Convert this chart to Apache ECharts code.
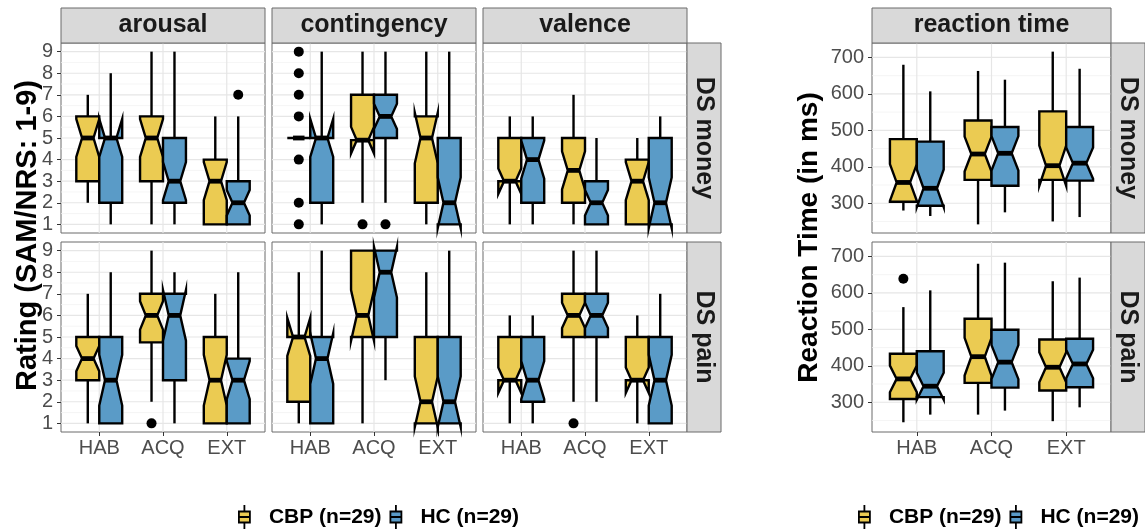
<!DOCTYPE html>
<html><head><meta charset="utf-8">
<script src="https://cdn.jsdelivr.net/npm/echarts@6/dist/echarts.min.js"></script>
<style>html,body{margin:0;padding:0;background:#fff}#chart{width:1145px;height:531px}</style>
</head><body><div id="chart"></div>
<script>
// ---------------- DATA ----------------
const CATEGORIES = ['HAB', 'ACQ', 'EXT'];
const GROUPS = ['CBP (n=29)', 'HC (n=29)'];
const COLUMN_LABELS = ['arousal', 'contingency', 'valence'];
const ROW_LABELS = ['DS money', 'DS pain'];
const RT_LABEL = 'reaction time';
const RATING_TICKS = [1, 2, 3, 4, 5, 6, 7, 8, 9];
const RT_TICKS = [300, 400, 500, 600, 700];
const N_PER_GROUP = 29;

// box stats per category (HAB, ACQ, EXT): [min whisker, Q1, median, Q3, max whisker]
const arousalMoneyCBP = [[2, 3, 5, 6, 7], [1, 3, 5, 6, 9], [1, 1, 3, 4, 6]];
const arousalMoneyHC  = [[1, 2, 5, 5, 8], [1, 2, 3, 5, 9], [1, 1, 2, 3, 6]];
const contingencyMoneyCBP = [[5, 5, 5, 5, 5], [2, 4.9, 4.9, 7, 9], [1, 2, 5, 6, 9]];
const contingencyMoneyHC  = [[1, 2, 5, 5, 9], [2, 5, 6, 7, 9], [1, 1, 2, 5, 9]];
const valenceMoneyCBP = [[1, 3, 3, 5, 6], [1, 2, 3.5, 5, 7], [1, 1, 3, 4, 5]];
const valenceMoneyHC  = [[1, 2, 4, 5, 6], [1, 1, 2, 3, 5], [1, 1, 2, 5, 6]];
const arousalPainCBP = [[1, 3, 4, 5, 7], [2, 4.75, 6, 7, 9], [1, 1, 3, 5, 7]];
const arousalPainHC  = [[1, 1, 3, 5, 8], [1, 3, 6, 7, 8], [1, 1, 3, 4, 8]];
const contingencyPainCBP = [[1, 2, 5, 5, 8], [1, 5, 6, 9, 9], [1, 1, 2, 5, 8]];
const contingencyPainHC  = [[1, 1, 4, 5, 9], [3, 5, 8, 9, 9], [1, 1, 2, 5, 9]];
const valencePainCBP = [[1, 3, 3, 5, 6], [2, 5, 6, 7, 9], [1, 3, 3, 5, 6]];
const valencePainHC  = [[1, 2, 3, 5, 6], [2, 5, 6, 7, 9], [1, 1, 3, 5, 7]];
const rtMoneyCBP = [[280, 304, 357, 476, 680], [242, 364, 435, 527, 663], [250, 364, 403, 552, 716]];
const rtMoneyHC  = [[265, 293, 341, 469, 607], [275, 348, 437, 509, 639], [262, 362, 410, 509, 669]];
const rtPainCBP = [[245, 309, 364, 433, 561], [266, 353, 425, 529, 680], [248, 332, 396, 472, 632]];
const rtPainHC  = [[266, 314, 344, 440, 607], [277, 340, 410, 499, 683], [286, 341, 405, 474, 642]];

// outliers: [category index, value]
const arousalMoneyOutHC = [[2, 7]];
const contingencyMoneyOutCBP = [[0, 9], [0, 8], [0, 7], [0, 6], [0, 4], [0, 2], [0, 1], [1, 1]];
const contingencyMoneyOutHC = [[1, 1]];
const arousalPainOutCBP = [[1, 1]];
const valencePainOutCBP = [[1, 1]];
const rtPainOutCBP = [[0, 639]];

// ---------------- STYLE / LAYOUT ----------------
const FONT = '"Liberation Sans", Arial, Helvetica, sans-serif';
const COLORS = ['#EBCB52', '#5A9BC7'];
const COL_LEFT = [61, 272, 483], COL_W = 204;
const RT_LEFT = 872, RT_W = 239;
const ROW_TOP = [43, 242], ROW_H = 190;
const STRIP_TOP = 8, STRIP_H = 35, ROW_STRIP_W = 34;
const X_LIM = [0.4, 3.6];
const DODGE = 0.18, HALF_W = 0.18;
const LW = 2.4;
const NOTCH_K = 1.58 / Math.sqrt(N_PER_GROUP);

function expand(sets) {
  let lo = Infinity, hi = -Infinity;
  sets.forEach(s => s.forEach(r => r.forEach((v, i) => {
    if (r.length === 2 && i === 0) return;
    lo = Math.min(lo, v); hi = Math.max(hi, v);
  })));
  const pad = (hi - lo) * 0.05;
  return [lo - pad, hi + pad];
}
function minorTicks(major, lim) {
  const out = [];
  const step = major[1] - major[0];
  const all = [major[0] - step].concat(major, [major[major.length - 1] + step]);
  for (let i = 0; i < all.length - 1; i++) {
    const m = (all[i] + all[i + 1]) / 2;
    if (m > lim[0] && m < lim[1]) out.push(m);
  }
  return out;
}

const ratingPanels = [
  { col: 0, row: 0, g: [arousalMoneyCBP, arousalMoneyHC], out: [[], arousalMoneyOutHC] },
  { col: 1, row: 0, g: [contingencyMoneyCBP, contingencyMoneyHC], out: [contingencyMoneyOutCBP, contingencyMoneyOutHC] },
  { col: 2, row: 0, g: [valenceMoneyCBP, valenceMoneyHC], out: [[], []] },
  { col: 0, row: 1, g: [arousalPainCBP, arousalPainHC], out: [arousalPainOutCBP, []] },
  { col: 1, row: 1, g: [contingencyPainCBP, contingencyPainHC], out: [[], []] },
  { col: 2, row: 1, g: [valencePainCBP, valencePainHC], out: [valencePainOutCBP, []] }
];
const rtPanels = [
  { col: 0, row: 0, g: [rtMoneyCBP, rtMoneyHC], out: [[], []] },
  { col: 0, row: 1, g: [rtPainCBP, rtPainHC], out: [rtPainOutCBP, []] }
];
const RATING_LIM = expand(ratingPanels.flatMap(p => p.g.concat(p.out)));
const RT_LIM = expand(rtPanels.flatMap(p => p.g.concat(p.out)));

function boxRenderer(offset, color) {
  return function (params, api) {
    const x = api.value(0) + offset;
    const mn = api.value(1), q1 = api.value(2), md = api.value(3), q3 = api.value(4), mx = api.value(5);
    const x0 = x - HALF_W, x1 = x + HALF_W, ind = (x1 - x0) * 0.25;
    const nd = NOTCH_K * (q3 - q1);
    const nlo = md - nd, nhi = md + nd;
    const P = (a, b) => api.coord([a, b]);
    const seg = (a, b, w) => ({ type: 'line', shape: { x1: a[0], y1: a[1], x2: b[0], y2: b[1] }, style: { stroke: '#000', lineWidth: w, lineCap: 'butt' } });
    const poly = [P(x0, q3), P(x0, nhi), P(x0 + ind, md), P(x0, nlo), P(x0, q1), P(x1, q1), P(x1, nlo), P(x1 - ind, md), P(x1, nhi), P(x1, q3)];
    return {
      type: 'group', children: [
        seg(P(x, q3), P(x, mx), LW),
        seg(P(x, q1), P(x, mn), LW),
        { type: 'polygon', shape: { points: poly }, style: { fill: color, stroke: '#000', lineWidth: LW, lineJoin: 'miter' } },
        seg(P(x0 + ind, md), P(x1 - ind, md), LW * 2)
      ]
    };
  };
}
function outlierRenderer(offset) {
  return function (params, api) {
    const c = api.coord([api.value(0) + 1 + offset, api.value(1)]);
    return { type: 'circle', shape: { cx: c[0], cy: c[1], r: 5 }, style: { fill: '#000' } };
  };
}
function gridRenderer(yLim) {
  return function (params, api) {
    const kind = api.value(0), v = api.value(1);
    let a, b;
    if (kind === 2) { a = api.coord([v, yLim[0]]); b = api.coord([v, yLim[1]]); }
    else { a = api.coord([X_LIM[0], v]); b = api.coord([X_LIM[1], v]); }
    return { type: 'line', shape: { x1: a[0], y1: a[1], x2: b[0], y2: b[1] },
      style: { stroke: kind === 1 ? '#F2F2F2' : '#E6E6E6', lineWidth: kind === 1 ? 0.8 : 1.2 } };
  };
}

const grids = [], xAxes = [], yAxes = [], series = [], graphics = [];

function addPanel(p, left, width, lim, ticks, showY) {
  const gi = grids.length;
  grids.push({ left: left, top: ROW_TOP[p.row], width: width, height: ROW_H, show: true,
    backgroundColor: '#fff', borderColor: '#6b6b6b', borderWidth: 1, containLabel: false });
  const showX = p.row === 1;
  xAxes.push({ gridIndex: gi, type: 'value', min: X_LIM[0], max: X_LIM[1],
    axisLine: { show: false }, splitLine: { show: false },
    axisTick: { show: showX, customValues: [1, 2, 3], length: 4, lineStyle: { color: '#333', width: 1 } },
    axisLabel: { show: showX, customValues: [1, 2, 3], formatter: v => CATEGORIES[Math.round(v) - 1],
      color: '#4D4D4D', fontSize: 20, margin: 6, fontFamily: FONT } });
  yAxes.push({ gridIndex: gi, type: 'value', min: lim[0], max: lim[1],
    axisLine: { show: false }, splitLine: { show: false },
    axisTick: { show: showY, customValues: ticks, length: 4, lineStyle: { color: '#333', width: 1 } },
    axisLabel: { show: showY, customValues: ticks, color: '#4D4D4D', fontSize: 20, margin: 8, fontFamily: FONT } });
  const gridItems = [];
  minorTicks(ticks, lim).forEach(v => gridItems.push([1, v]));
  ticks.forEach(v => gridItems.push([0, v]));
  CATEGORIES.forEach((c, i) => gridItems.push([2, i + 1]));
  series.push({ type: 'custom', name: 'grid', silent: true, z: 1, xAxisIndex: gi, yAxisIndex: gi,
    data: gridItems, renderItem: gridRenderer(lim) });
  p.g.forEach((stats, k) => {
    const off = k === 0 ? -DODGE : DODGE;
    series.push({ type: 'custom', name: GROUPS[k], xAxisIndex: gi, yAxisIndex: gi, z: 3,
      itemStyle: { color: COLORS[k] },
      data: stats.map((s, i) => [i + 1].concat(s)), renderItem: boxRenderer(off, COLORS[k]) });
    if (p.out[k].length) {
      series.push({ type: 'custom', name: 'outliers ' + k, xAxisIndex: gi, yAxisIndex: gi, z: 4,
        data: p.out[k], renderItem: outlierRenderer(off) });
    }
  });
}

ratingPanels.forEach(p => addPanel(p, COL_LEFT[p.col], COL_W, RATING_LIM, RATING_TICKS, p.col === 0));
rtPanels.forEach(p => addPanel(p, RT_LEFT, RT_W, RT_LIM, RT_TICKS, true));

// strips
const stripStyle = { fill: '#D9D9D9', stroke: '#6b6b6b', lineWidth: 1 };
const stripFont = 'bold 25px ' + FONT;
function stripText(text, x, y, rot) {
  return { type: 'text', x: x, y: y, rotation: rot || 0, z: 10,
    style: { text: text, font: stripFont, fill: '#1A1A1A', align: 'center', verticalAlign: 'middle' } };
}
COLUMN_LABELS.forEach((t, c) => {
  graphics.push({ type: 'rect', shape: { x: COL_LEFT[c], y: STRIP_TOP, width: COL_W, height: STRIP_H }, style: stripStyle, z: 9 });
  graphics.push(stripText(t, COL_LEFT[c] + COL_W / 2, STRIP_TOP + STRIP_H / 2));
});
graphics.push({ type: 'rect', shape: { x: RT_LEFT, y: STRIP_TOP, width: RT_W, height: STRIP_H }, style: stripStyle, z: 9 });
graphics.push(stripText(RT_LABEL, RT_LEFT + RT_W / 2, STRIP_TOP + STRIP_H / 2));
ROW_LABELS.forEach((t, r) => {
  [COL_LEFT[2] + COL_W, RT_LEFT + RT_W].forEach(x => {
    graphics.push({ type: 'rect', shape: { x: x, y: ROW_TOP[r], width: ROW_STRIP_W, height: ROW_H }, style: stripStyle, z: 9 });
    graphics.push(stripText(t, x + ROW_STRIP_W / 2, ROW_TOP[r] + ROW_H / 2, -Math.PI / 2));
  });
});
const panelMid = ROW_TOP[0] + (ROW_TOP[1] + ROW_H - ROW_TOP[0]) / 2;
graphics.push({ type: 'text', x: 28, y: panelMid - 2, rotation: Math.PI / 2, z: 10,
  style: { text: 'Rating (SAM/NRS: 1-9)', font: 'bold 29px ' + FONT, fill: '#000', align: 'center', verticalAlign: 'middle' } });
graphics.push({ type: 'text', x: 809, y: panelMid, rotation: Math.PI / 2, z: 10,
  style: { text: 'Reaction Time (in ms)', font: 'bold 28px ' + FONT, fill: '#000', align: 'center', verticalAlign: 'middle' } });

const KEY_ICON = 'path://M5,0L5,6M0,6L10,6L10,16L0,16ZM0,11L10,11M5,16L5,22';
function mkLegend(left) {
  return { left: left, top: 504, padding: 0, orient: 'horizontal', itemWidth: 11, itemHeight: 25, itemGap: 8,
    selectedMode: false, data: GROUPS.map(n => ({ name: n, icon: KEY_ICON })),
    itemStyle: { borderColor: '#000', borderWidth: 1.8 },
    textStyle: { fontSize: 21, fontWeight: 'bold', color: '#000', fontFamily: FONT, padding: [0, 0, 0, 14] } };
}

const chart = echarts.init(document.getElementById('chart'), null, { renderer: 'canvas' });
chart.setOption({
  animation: false,
  backgroundColor: '#fff',
  textStyle: { fontFamily: FONT },
  grid: grids, xAxis: xAxes, yAxis: yAxes, series: series,
  legend: [mkLegend(238), mkLegend(858)],
  graphic: graphics
});
</script></body></html>
